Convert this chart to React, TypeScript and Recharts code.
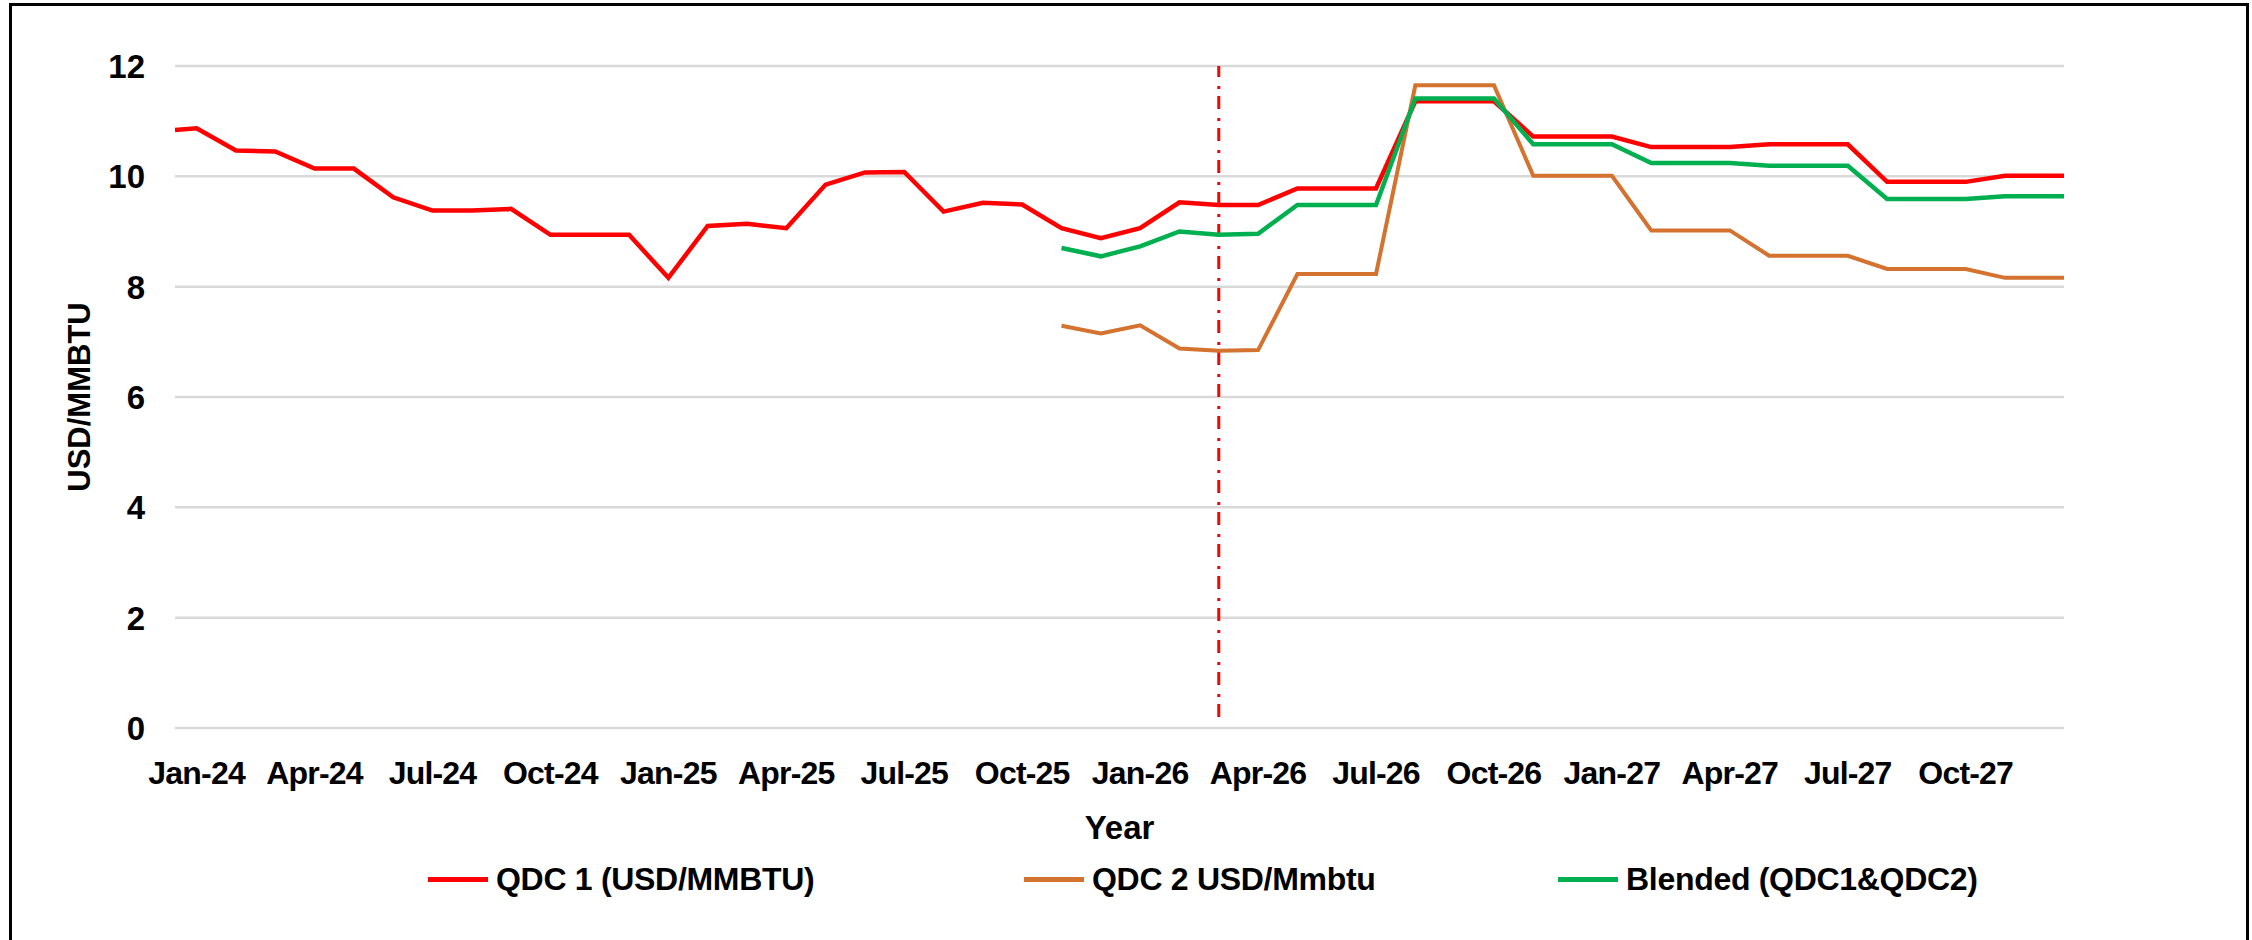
import { LineChart, Line, XAxis, YAxis, CartesianGrid, Legend, ReferenceLine } from "recharts";

const months = [
  "Jan-24", "Feb-24", "Mar-24", "Apr-24", "May-24", "Jun-24", "Jul-24", "Aug-24", "Sep-24", "Oct-24", "Nov-24", "Dec-24",
  "Jan-25", "Feb-25", "Mar-25", "Apr-25", "May-25", "Jun-25", "Jul-25", "Aug-25", "Sep-25", "Oct-25", "Nov-25", "Dec-25",
  "Jan-26", "Feb-26", "Mar-26", "Apr-26", "May-26", "Jun-26", "Jul-26", "Aug-26", "Sep-26", "Oct-26", "Nov-26", "Dec-26",
  "Jan-27", "Feb-27", "Mar-27", "Apr-27", "May-27", "Jun-27", "Jul-27", "Aug-27", "Sep-27", "Oct-27", "Nov-27", "Dec-27",
];

const tickMonths = [
  "Jan-24", "Apr-24", "Jul-24", "Oct-24", "Jan-25", "Apr-25", "Jul-25", "Oct-25",
  "Jan-26", "Apr-26", "Jul-26", "Oct-26", "Jan-27", "Apr-27", "Jul-27", "Oct-27",
];

const yTicks = [0, 2, 4, 6, 8, 10, 12];

// QDC 1, every month Jan-24 .. Dec-27
const qdc1 = [
  10.87, 10.47, 10.45, 10.14, 10.14, 9.62, 9.38, 9.38, 9.41, 8.94, 8.94, 8.94,
  8.16, 9.1, 9.14, 9.06, 9.85, 10.07, 10.08, 9.36, 9.52, 9.49, 9.06, 8.88,
  9.06, 9.53, 9.48, 9.48, 9.78, 9.78, 9.78, 11.36, 11.36, 11.36, 10.72, 10.72,
  10.72, 10.53, 10.53, 10.53, 10.58, 10.58, 10.58, 9.9, 9.9, 9.9, 10.01, 10.01,
];

// QDC 2 and blended only start in Nov-25
const secondStart = "Nov-25";
const qdc2 = [
  7.29, 7.15, 7.3, 6.88, 6.84, 6.85, 8.23, 8.23, 8.23, 11.65, 11.65, 11.65, 10.01,
  10.01, 10.01, 9.02, 9.02, 9.02, 8.56, 8.56, 8.56, 8.32, 8.32, 8.32, 8.16, 8.16,
];
const blended = [
  8.7, 8.55, 8.73, 9.0, 8.94, 8.96, 9.48, 9.48, 9.48, 11.41, 11.41, 11.41, 10.58,
  10.58, 10.58, 10.24, 10.24, 10.24, 10.19, 10.19, 10.19, 9.59, 9.59, 9.59, 9.64, 9.64,
];

// the lines run out to the plot edges (half a month either side)
const edgeStart = { pos: -0.55, qdc1: 10.84 };
const edgeEnd = { pos: 47.5, qdc1: 10.01, qdc2: 8.16, blended: 9.64 };

const cutoverMonth = "Mar-26";

const seriesNames = ["QDC 1 (USD/MMBTU)", "QDC 2 USD/Mmbtu", "Blended (QDC1&QDC2)"];

const s = months.indexOf(secondStart);
const data = [
  { pos: edgeStart.pos, qdc1: edgeStart.qdc1, qdc2: null, blended: null },
  ...months.map((m, i) => ({
    pos: i,
    month: m,
    qdc1: qdc1[i],
    qdc2: i >= s ? qdc2[i - s] : null,
    blended: i >= s ? blended[i - s] : null,
  })),
  edgeEnd,
];

const FONT = '"Liberation Sans", Arial, sans-serif';

const legendLeft = [428, 1024, 1558];

const renderLegend = (props: any) => {
  const items = [...(props.payload || [])].sort(
    (a: any, b: any) => seriesNames.indexOf(a.value) - seriesNames.indexOf(b.value)
  );
  return (
    <div style={{ position: "relative", width: 2252, height: 54 }}>
      {items.map((entry: any, i: number) => (
        <div
          key={entry.value}
          style={{
            position: "absolute",
            left: legendLeft[i],
            top: 0,
            height: 54,
            display: "flex",
            alignItems: "center",
          }}
        >
          <div style={{ width: 60, height: 5, background: entry.color, marginRight: 8 }} />
          <span
            style={{
              fontFamily: FONT,
              fontWeight: 700,
              fontSize: 32,
              letterSpacing: -0.3,
              color: "#000",
              whiteSpace: "nowrap",
            }}
          >
            {entry.value}
          </span>
        </div>
      ))}
    </div>
  );
};

const XTick = (props: any) => {
  const { x, y, payload } = props;
  return (
    <text
      x={x}
      y={y}
      dy="0.72em"
      textAnchor="middle"
      fontFamily={FONT}
      fontWeight={700}
      fontSize={32}
      letterSpacing={-0.8}
      fill="#000"
    >
      {months[payload.value] ?? ""}
    </text>
  );
};

const YTick = (props: any) => {
  const { x, y, payload } = props;
  return (
    <text x={x} y={y} dy="0.36em" textAnchor="end" fontFamily={FONT} fontWeight={700} fontSize={33} fill="#000">
      {payload.value}
    </text>
  );
};

const YTitle = (props: any) => {
  const vb = props.viewBox || { x: 0, y: 66, width: 175, height: 661 };
  const cx = vb.x + 79;
  const cy = vb.y + vb.height / 2;
  return (
    <text
      x={cx}
      y={cy}
      transform={`rotate(-90 ${cx} ${cy})`}
      textAnchor="middle"
      dominantBaseline="central"
      fontFamily={FONT}
      fontWeight={700}
      fontSize={31}
      fill="#000"
    >
      USD/MMBTU
    </text>
  );
};

const XTitle = (props: any) => {
  const vb = props.viewBox || { x: 175, y: 727, width: 1889, height: 110 };
  return (
    <text
      x={vb.x + vb.width / 2}
      y={vb.y + 99}
      textAnchor="middle"
      dominantBaseline="central"
      fontFamily={FONT}
      fontWeight={700}
      fontSize={33}
      fill="#000"
    >
      Year
    </text>
  );
};

const App = () => {
  const cut = months.indexOf(cutoverMonth);
  return (
    <div style={{ position: "absolute", left: 0, top: 0, width: 2252, height: 940, overflow: "hidden", background: "#fff" }}>
      <div
        style={{
          position: "absolute",
          left: 9,
          top: 3,
          width: 2240,
          height: 1000,
          border: "3.5px solid #000",
          boxSizing: "border-box",
        }}
      />
      <LineChart width={2252} height={940} data={data} margin={{ top: 66, right: 188, bottom: 48, left: 0 }}>
        <CartesianGrid vertical={false} stroke="#D9D9D9" strokeWidth={2.5} />
        <XAxis
          type="number"
          dataKey="pos"
          domain={[edgeStart.pos, edgeEnd.pos]}
          ticks={tickMonths.map((m) => months.indexOf(m))}
          interval={0}
          axisLine={false}
          tickLine={false}
          tickSize={0}
          tickMargin={33}
          height={110}
          tick={<XTick />}
          label={XTitle}
        />
        <YAxis
          domain={[0, 12]}
          ticks={yTicks}
          interval={0}
          axisLine={false}
          tickLine={false}
          tickSize={0}
          tickMargin={30}
          width={175}
          tick={<YTick />}
          label={YTitle}
        />
        <ReferenceLine
          segment={[
            { x: cut, y: 0.2 },
            { x: cut, y: 12 },
          ]}
          stroke="#FF0000"
          strokeWidth={3}
          strokeDasharray="13 7 3 9"
          ifOverflow="visible"
        />
        <Line
          type="linear"
          dataKey="qdc1"
          name={seriesNames[0]}
          stroke="#FF0000"
          strokeWidth={4.5}
          dot={false}
          activeDot={false}
          isAnimationActive={false}
        />
        <Line
          type="linear"
          dataKey="qdc2"
          name={seriesNames[1]}
          stroke="#D4722F"
          strokeWidth={4}
          dot={false}
          activeDot={false}
          isAnimationActive={false}
        />
        <Line
          type="linear"
          dataKey="blended"
          name={seriesNames[2]}
          stroke="#00B050"
          strokeWidth={4.5}
          dot={false}
          activeDot={false}
          isAnimationActive={false}
        />
        <Legend
          content={renderLegend}
          wrapperStyle={{ top: 852, left: 0, bottom: "auto", width: 2252, height: 54 }}
        />
      </LineChart>
    </div>
  );
};

export default App;
